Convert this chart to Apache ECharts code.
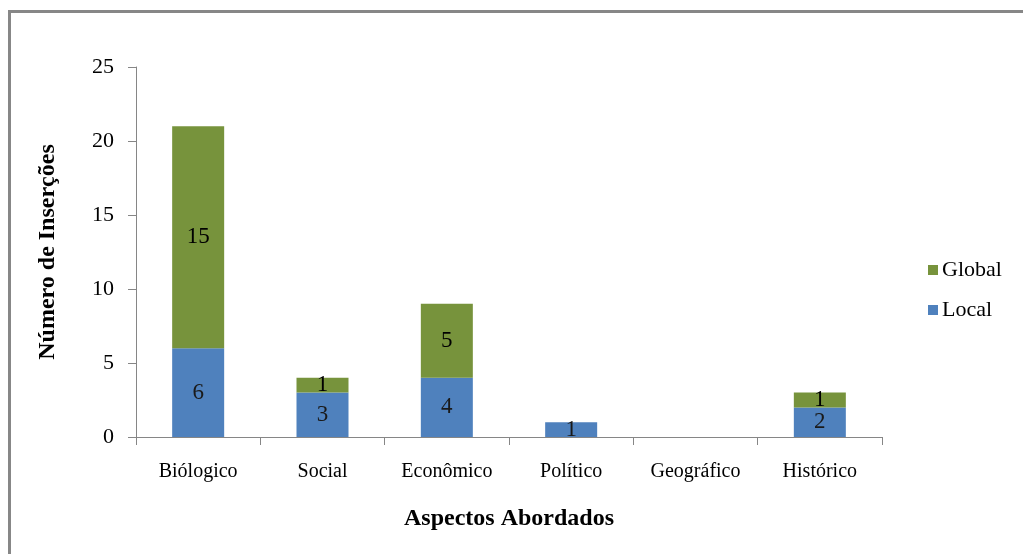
<!DOCTYPE html>
<html>
<head>
<meta charset="utf-8">
<script src="https://cdn.jsdelivr.net/npm/echarts@6/dist/echarts.min.js"></script>
<style>
  html, body { margin: 0; padding: 0; background: #fff; }
  #chart { width: 1023px; height: 554px; }
</style>
</head>
<body>
<div id="chart"></div>
<script>
// Aspects covered and number of insertions per scope
const categories = ['Biólogico', 'Social', 'Econômico', 'Político', 'Geográfico', 'Histórico'];
const localValues = [6, 3, 4, 1, 0, 2];
const globalValues = [15, 1, 5, 0, 0, 1];
const yTicks = [0, 5, 10, 15, 20, 25];

const serif = '"Liberation Serif", "DejaVu Serif", serif';
const axisGray = '#868686';

const chart = echarts.init(document.getElementById('chart'), null, { renderer: 'canvas' });

const hideZero = p => (p.value === 0 ? '' : String(p.value));

chart.setOption({
  animation: false,
  backgroundColor: '#ffffff',
  textStyle: { fontFamily: serif },
  graphic: [{
    type: 'rect',
    shape: { x: 9.5, y: 11.5, width: 1100, height: 700 },
    style: { fill: 'none', stroke: '#878787', lineWidth: 3 },
    silent: true
  }],
  grid: { left: 136, right: 141, top: 67, bottom: 117 },
  legend: {
    orient: 'vertical',
    left: 923,
    top: 254,
    itemWidth: 10,
    itemHeight: 10,
    itemGap: 18,
    icon: 'rect',
    data: ['Global', 'Local'],
    textStyle: { fontFamily: serif, fontSize: 22, color: '#000', padding: [0, 0, 0, -1] }
  },
  xAxis: {
    type: 'category',
    data: categories,
    name: 'Aspectos Abordados',
    nameLocation: 'middle',
    nameGap: 70,
    nameTextStyle: { fontFamily: serif, fontSize: 24, fontWeight: 'bold', color: '#000' },
    axisLine: { lineStyle: { color: axisGray, width: 1 } },
    axisTick: { show: true, length: 8, alignWithLabel: false, lineStyle: { color: axisGray } },
    axisLabel: { fontFamily: serif, fontSize: 20, color: '#000', margin: 25, interval: 0 }
  },
  yAxis: {
    type: 'value',
    min: yTicks[0],
    max: yTicks[yTicks.length - 1],
    interval: yTicks[1] - yTicks[0],
    name: 'Número de Inserções',
    nameLocation: 'middle',
    nameGap: 76,
    nameTextStyle: { fontFamily: serif, fontSize: 24, fontWeight: 'bold', color: '#000' },
    axisLine: { show: true, lineStyle: { color: axisGray, width: 1 } },
    axisTick: { show: true, length: 8, lineStyle: { color: axisGray } },
    splitLine: { show: false },
    axisLabel: { fontFamily: serif, fontSize: 22, color: '#000', margin: 22 }
  },
  series: [
    {
      name: 'Local',
      type: 'bar',
      stack: 'total',
      barWidth: 52,
      data: localValues,
      itemStyle: { color: '#4F81BD' },
      label: {
        show: true,
        position: 'inside',
        formatter: hideZero,
        fontFamily: serif,
        fontSize: 23,
        color: '#1a1a1a'
      }
    },
    {
      name: 'Global',
      type: 'bar',
      stack: 'total',
      barWidth: 52,
      data: globalValues,
      itemStyle: { color: '#77933C' },
      label: {
        show: true,
        position: 'inside',
        formatter: hideZero,
        fontFamily: serif,
        fontSize: 23,
        color: '#000'
      }
    }
  ]
});
</script>
</body>
</html>
